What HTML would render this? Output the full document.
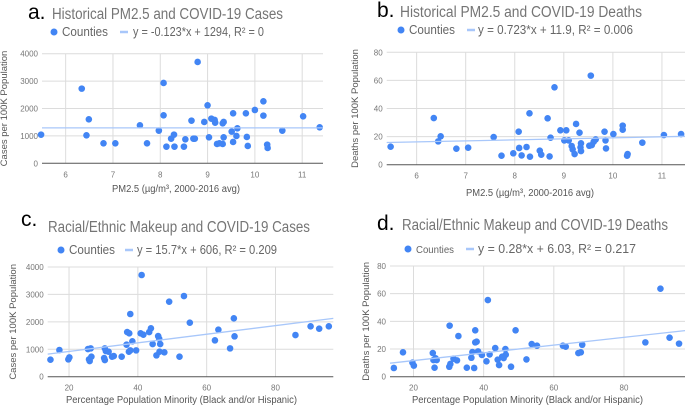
<!DOCTYPE html>
<html><head><meta charset="utf-8"><style>
body{margin:0;background:#fff;width:685px;height:406px;overflow:hidden;font-family:"Liberation Sans",sans-serif}
svg{display:block}
</style></head><body>
<svg id="chart" width="685" height="406" xmlns="http://www.w3.org/2000/svg"></svg>
<script>
// Panel a: PM2.5 vs cases
const aX=[5.48,6.34,6.44,6.49,6.80,7.05,7.57,7.72,7.97,8.07,8.07,8.13,8.23,8.29,8.30,8.50,8.53,8.66,8.70,8.73,8.79,8.93,9.00,9.03,9.08,9.15,9.16,9.20,9.25,9.32,9.32,9.34,9.34,9.51,9.54,9.54,9.61,9.63,9.81,9.83,9.85,10.00,10.18,10.18,10.26,10.27,10.58,11.02,11.37];
const aY=[1046,2725,1022,1606,730,730,1387,730,1192,2932,1752,608,900,1046,608,608,876,1557,900,900,3698,1509,2117,949,1630,1582,1484,706,730,1460,706,1509,949,1156,779,1825,998,1277,1825,961,633,1946,2263,1740,681,560,1192,1715,1314];
// Panel b: PM2.5 vs deaths
const bX=[5.47,6.35,6.44,6.49,6.81,7.05,7.57,7.73,7.97,8.08,8.09,8.14,8.24,8.30,8.31,8.51,8.54,8.67,8.71,8.73,8.81,8.93,9.01,9.05,9.10,9.16,9.18,9.22,9.25,9.32,9.34,9.35,9.35,9.52,9.55,9.57,9.61,9.65,9.83,9.85,9.86,10.01,10.20,10.20,10.29,10.30,10.60,11.04,11.39];
const bY=[12.8,33.2,16.6,20.2,11.4,12.1,19.7,6.4,8.1,23.5,11.9,6.6,12.6,36.6,5.7,10.0,7.1,33.0,5.9,19.2,55.1,24.5,17.3,24.5,17.3,13.3,10.9,7.6,29.0,22.8,12.3,9.7,15.2,13.5,63.4,14.0,16.4,18.0,23.5,17.3,11.6,21.8,27.8,24.9,6.4,7.6,15.7,21.1,21.8];
// Panel c: minority % vs cases
const cX=[14.6,17.2,19.8,20.1,25.5,25.8,26.0,26.3,26.5,30.2,30.4,30.4,30.7,31.5,32.5,33.0,35.3,36.7,36.9,37.4,37.5,37.8,37.8,38.4,39.5,40.8,41.1,41.6,43.3,43.8,44.3,45.4,45.9,46.2,46.3,46.5,47.7,49.1,52.1,53.4,55.1,62.4,63.4,66.8,67.9,68.1,85.8,90.2,92.7,95.5];
const cY=[620,973,632,705,1009,632,571,1033,730,681,1033,608,936,912,730,754,730,1167,1629,912,1581,2286,960,1289,960,1581,3708,1532,1629,1763,1191,778,1483,1386,912,1191,888,2736,730,2942,1970,1325,1714,1033,2128,1471,1520,1836,1751,1836];
// Panel d: minority % vs deaths
const dX=[14.4,17.0,19.7,20.1,25.5,25.7,26.0,26.3,26.6,30.2,30.3,30.5,31.4,32.4,32.8,35.2,36.5,36.8,37.3,37.6,37.6,38.0,38.4,39.5,40.8,41.2,41.7,43.3,44.0,44.4,45.3,45.7,46.2,46.3,47.8,49.1,52.2,53.7,55.2,62.6,63.4,67.0,67.7,68.1,86.1,90.4,93.0,95.7];
const dY=[6.3,17.6,10.1,8.0,17.1,12.0,6.5,13.3,12.0,7.2,36.9,9.2,13.0,11.8,29.4,6.5,13.7,17.8,6.3,33.5,24.8,25.3,18.3,15.7,11.1,55.4,16.1,20.7,12.3,8.4,14.5,13.5,20.0,15.9,7.2,33.5,12.5,23.6,22.4,22.4,21.7,17.1,17.6,23.1,24.8,63.6,28.2,23.9];
const pmTicks=[6,7,8,9,10,11];
const pctTicks=[20,40,60,80];
const casesTicks=[0,1000,2000,3000,4000];
const deathsTicks=[0,20,40,60,80];
const trendA=[-0.123,1294], trendB=[0.723,11.9], trendC=[15.7,606], trendD=[0.28,6.03];

const NS="http://www.w3.org/2000/svg";
const svg=document.getElementById('chart');
function mk(tag,attrs,parent,text){const e=document.createElementNS(NS,tag);for(const k in attrs)e.setAttribute(k,attrs[k]);if(text!==undefined)e.textContent=text;(parent||svg).appendChild(e);return e;}

const panels=[
 {id:'a',letter:'a.',lx:28,ly:19,title:'Historical PM2.5 and COVID-19 Cases',tx:52,ty:19,tw:231,legY:36,dotX:54,cw:46,cfs:12.5,lineX:120,eqX:133,eqW:131,eq:'y = -0.123*x + 1294, R² = 0',xs:aX,ys:aY,trend:trendA,
  x0:5.5,x1:11.44,px0:42,px1:323,y0:0,y1:4000,py0:163.3,py1:53.7,xt:pmTicks,yt:casesTicks,ytitle:'Cases per 100K Population',xtitle:'PM2.5 (µg/m³, 2000-2016 avg)',ytx:7,xtitleY:192,xtx:112,xtw:128},
 {id:'b',letter:'b.',lx:377,ly:17,title:'Historical PM2.5 and COVID-19 Deaths',tx:400,ty:17,tw:242,legY:34,dotX:401,cw:46,cfs:12.5,lineX:467,eqX:478,eqW:155,eq:'y = 0.723*x + 11.9, R² = 0.006',xs:bX,ys:bY,trend:trendB,
  x0:5.39,x1:11.47,px0:386.7,px1:685,y0:0,y1:80,py0:164.7,py1:52.3,xt:pmTicks,yt:deathsTicks,ytitle:'Deaths per 100K Population',xtitle:'PM2.5 (µg/m³, 2000-2016 avg)',ytx:358,xtitleY:196,xtx:466,xtw:128},
 {id:'c',letter:'c.',lx:21,ly:226,title:'Racial/Ethnic Makeup and COVID-19 Cases',tx:48,ty:232,tw:262,legY:254,dotX:61,cw:46,cfs:12.5,lineX:125,eqX:137,eqW:140,eq:'y = 15.7*x + 606, R² = 0.209',xs:cX,ys:cY,trend:trendC,
  x0:13.8,x1:96.8,px0:47.7,px1:333.3,y0:0,y1:4000,py0:376.7,py1:267,xt:pctTicks,yt:casesTicks,ytitle:'Cases per 100K Population',xtitle:'Percentage Population Minority (Black and/or Hispanic)',ytx:16,xtitleY:403,xtx:66,xtw:231},
 {id:'d',letter:'d.',lx:377,ly:230,title:'Racial/Ethnic Makeup and COVID-19 Deaths',tx:402,ty:230,tw:266,legY:253,dotX:408,cw:38,cfs:10.5,lineX:466,eqX:478,eqW:158,eq:'y = 0.28*x + 6.03, R² = 0.217',xs:dX,ys:dY,trend:trendD,
  x0:13.3,x1:97.4,px0:390,px1:685,y0:0,y1:80,py0:376.7,py1:266,xt:pctTicks,yt:deathsTicks,ytitle:'Deaths per 100K Population',xtitle:'Percentage Population Minority (Black and/or Hispanic)',ytx:369,xtitleY:403,xtx:412,xtw:231}
];

panels.forEach(p=>{
  const g=mk('g',{});
  
  
  const sx=v=>p.px0+(v-p.x0)/(p.x1-p.x0)*(p.px1-p.px0);
  const sy=v=>p.py0+(v-p.y0)/(p.y1-p.y0)*(p.py1-p.py0);
  p.yt.forEach(t=>{
    if(t!==0){const l=mk('line',{x1:p.px0,x2:p.px1,y1:sy(t),y2:sy(t),stroke:'#dcdcdc','stroke-width':1},g);
    }
    const tl=mk('text',{x:p.px0-4,y:sy(t)+3,'text-anchor':'end','font-size':8,fill:'#777'},g,String(t));
    
  });
  p.xt.forEach(t=>{
    const l=mk('line',{x1:sx(t),x2:sx(t),y1:p.py1,y2:p.py0,stroke:'#dcdcdc','stroke-width':1},g);
    
    const tl=mk('text',{x:sx(t),y:p.py0+14,'text-anchor':'middle','font-size':8,fill:'#777'},g,String(t));
    
  });
  const base=mk('line',{x1:p.px0,x2:p.px1,y1:p.py0,y2:p.py0,stroke:'#555','stroke-width':1},g);
  
  p.xs.forEach((v,i)=>{
    const c=mk('circle',{cx:sx(v),cy:sy(p.ys[i]),r:3.3,fill:'#4285f4'},g);
    
    
  });
  const tr=mk('line',{x1:p.px0,x2:p.px1,y1:sy(p.trend[0]*p.x0+p.trend[1]),y2:sy(p.trend[0]*p.x1+p.trend[1]),stroke:'#a8c7fa','stroke-width':1.3},g);
  
  const lt=mk('text',{x:p.lx,y:p.ly,'font-size':21,fill:'#000'},g,p.letter);
  
  const tt=mk('text',{x:p.tx,y:p.ty,'font-size':15.5,fill:'#757575',textLength:p.tw,lengthAdjust:'spacingAndGlyphs'},g,p.title);
  
  const ld=mk('circle',{cx:p.dotX,cy:p.legY-4,r:3.5,fill:'#4285f4'},g);
  
  const lx=mk('text',{x:p.dotX+8,y:p.legY,'font-size':p.cfs,fill:'#666',textLength:p.cw,lengthAdjust:'spacingAndGlyphs'},g,'Counties');
  
  const ll=mk('line',{x1:p.lineX,x2:p.lineX+8,y1:p.legY-4,y2:p.legY-4,stroke:'#a8c7fa','stroke-width':2.5},g);
  
  const le=mk('text',{x:p.eqX,y:p.legY,'font-size':12.5,fill:'#666',textLength:p.eqW,lengthAdjust:'spacingAndGlyphs'},g,p.eq);
  
  const cy=(p.py0+p.py1)/2;
  const yt=mk('text',{x:p.ytx,y:cy,'text-anchor':'middle','font-size':9.5,fill:'#555',transform:'rotate(-90 '+p.ytx+' '+cy+')'},g,p.ytitle);
  
  const xt=mk('text',{x:p.xtx,y:p.xtitleY,'font-size':10,fill:'#555',textLength:p.xtw,lengthAdjust:'spacingAndGlyphs'},g,p.xtitle);
  
});
</script>
</body></html>
